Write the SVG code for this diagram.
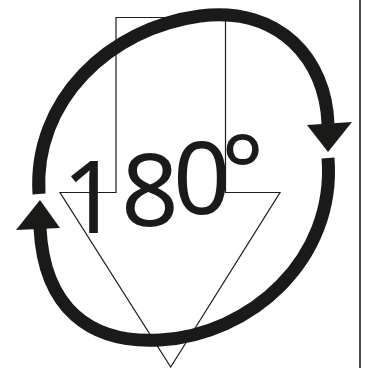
<svg xmlns="http://www.w3.org/2000/svg" width="365" height="368" viewBox="0 0 365 368">
<style>
.thin{fill:none;stroke:#1d1d1b;stroke-width:1.2}
.arc{fill:none;stroke:#1a1a18;stroke-width:13}
.head{fill:#1a1a18}
.lbl{font-family:"Noto Sans","Liberation Sans",sans-serif;font-size:101px;fill:#1a1a18}
</style>
<rect width="365" height="368" fill="#fff"/>
<g id="down-arrow">
<path class="thin" d="M116,17.5 H225.5 V192.5 H280 L170.7,367 L60,192.5 H116 Z"/>
</g>
<g id="label">
<text class="lbl" x="62 121 173 221" y="233 226 214 207">180°</text>
</g>
<g id="connectors">
<path class="arc" d="M39,194 C33,100 110,28 200,16 C280,6 326,60 328,124"/>
<polygon class="head" points="307,125 352,122 328,152"/>
<path class="arc" d="M328,158 C336,260 250,335 160,340 C90,344 44,308 40,228"/>
<polygon class="head" points="16,230 60,228 40,200"/>
</g>
<g id="frame">
<line x1="360" y1="0" x2="360" y2="368" stroke="#1d1d1b" stroke-width="1.6"/>
</g>
</svg>
